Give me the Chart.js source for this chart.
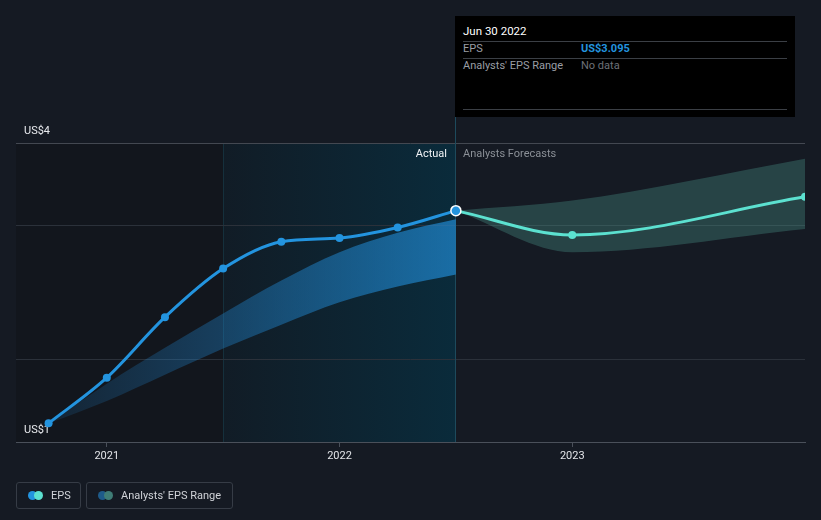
<!DOCTYPE html>
<html>
<head>
<meta charset="utf-8">
<script src="https://cdn.jsdelivr.net/npm/chart.js@4.4.1/dist/chart.umd.min.js"></script>
<style>
  body { margin: 0; background: #151a23; font-family: Roboto, "Open Sans", sans-serif; }
  #wrap { position: relative; width: 821px; height: 520px; overflow: hidden; }
  #tip { position: absolute; left: 455px; top: 16px; width: 340px; height: 101px; background: #000; }
  #tip .row { position: absolute; left: 8px; right: 8px; font-size: 11px; }
  #tip .sep { position: absolute; left: 8px; right: 8px; height: 1px; background: #3b3f45; }
  .legend { position: absolute; top: 482px; height: 27px; border: 1px solid #363c46; border-radius: 3px; box-sizing: border-box; color: #d0d3d8; font-size: 11px; }
  .legend .dot { position: absolute; top: 8px; width: 9px; height: 9px; border-radius: 50%; }
  .legend span.t { position: absolute; top: 6px; }
</style>
</head>
<body>
<div id="wrap">
  <canvas id="chart1" width="821" height="520"></canvas>
  <div id="tip">
    <div class="row" style="top:8px;color:#fff;font-size:11.5px;">Jun 30 2022</div>
    <div class="sep" style="top:25px;"></div>
    <div class="row" style="top:26px;color:#9a9ea5;">EPS<span style="position:absolute;left:118px;color:#2394df;font-weight:bold;">US$3.095</span></div>
    <div class="sep" style="top:42px;"></div>
    <div class="row" style="top:43px;color:#9a9ea5;">Analysts' EPS Range<span style="position:absolute;left:118px;color:#6d7178;">No data</span></div>
    <div class="sep" style="top:93px;"></div>
  </div>
  <div class="legend" style="left:16px;width:65px;">
    <div class="dot" style="left:11px;background:#2394df;"></div>
    <div class="dot" style="left:17px;background:#5ce1d0;"></div>
    <span class="t" style="left:34px;">EPS</span>
  </div>
  <div class="legend" style="left:86px;width:147px;">
    <div class="dot" style="left:11px;background:#1e5b8a;"></div>
    <div class="dot" style="left:17px;background:#3f7d76;"></div>
    <span class="t" style="left:34px;">Analysts' EPS Range</span>
  </div>
</div>
<script>
// actual EPS (decimal years)
const epsYears = [2020.75, 2021.0, 2021.25, 2021.5, 2021.75, 2022.0, 2022.25, 2022.5];
const epsValues = [0.25, 0.86, 1.67, 2.32, 2.68, 2.73, 2.87, 3.095];

// past analysts range
const pastRangeYears = [2020.75, 2021.0, 2021.25, 2021.5, 2021.75, 2022.0, 2022.25, 2022.5];
const pastRangeLow = [0.25, 0.55, 0.9, 1.25, 1.57, 1.87, 2.08, 2.24];
const pastRangeHigh = [0.25, 0.78, 1.26, 1.72, 2.16, 2.54, 2.8, 2.98];

// forecast
const forecastYears = [2022.5, 2023.0, 2024.0];
const forecastValues = [3.095, 2.77, 3.28];
const forecastLow = [3.095, 2.54, 2.85];
const forecastHigh = [3.095, 3.23, 3.79];

// axes
const xTickYears = [2021, 2022, 2023];
const yGridValues = [0, 1.1, 2.9, 4];
const yLabelValues = [4, 0];
const yLabelTexts = ["US$4", "US$1"];
const pastStart = 2021.5;
const todayYear = 2022.5;

function pts(xs, ys) {
  return xs.map((x, i) => ({ x: x, y: ys[i] }));
}

const ctx = document.getElementById("chart1");

var myChart = new Chart(ctx, {
  type: "line",
  data: {
    datasets: [
      {
        label: "EPS",
        data: pts(epsYears, epsValues),
        borderColor: "#2394df",
        backgroundColor: "#2394df",
        borderWidth: 3,
        cubicInterpolationMode: "monotone",
        pointRadius: (c) => (c.dataIndex === epsValues.length - 1 ? 5 : 4),
        pointBorderColor: (c) => (c.dataIndex === epsValues.length - 1 ? "#fff" : "#2394df"),
        pointBorderWidth: (c) => (c.dataIndex === epsValues.length - 1 ? 1.5 : 0),
        pointBackgroundColor: "#2394df",
        fill: false,
        order: 0,
      },
      {
        label: "Forecast",
        data: pts(forecastYears, forecastValues),
        borderColor: "#5ce1d0",
        backgroundColor: "#5ce1d0",
        borderWidth: 3,
        cubicInterpolationMode: "monotone",
        pointRadius: (c) => (c.dataIndex === 0 ? 0 : 4),
        pointBorderWidth: 0,
        fill: false,
        order: 1,
      },
      {
        label: "pastLow",
        data: pts(pastRangeYears, pastRangeLow),
        borderWidth: 0,
        pointRadius: 0,
        cubicInterpolationMode: "monotone",
        fill: false,
        order: 3,
      },
      {
        label: "pastHigh",
        data: pts(pastRangeYears, pastRangeHigh),
        borderWidth: 0,
        pointRadius: 0,
        cubicInterpolationMode: "monotone",
        fill: { target: 2 },
        backgroundColor: function (context) {
          const area = context.chart.chartArea;
          if (!area) return "rgba(33,150,243,0.4)";
          const xs = context.chart.scales.x;
          const g = context.chart.ctx.createLinearGradient(xs.getPixelForValue(2020.75), 0, xs.getPixelForValue(todayYear), 0);
          g.addColorStop(0, "rgba(33,140,220,0.12)");
          g.addColorStop(1, "rgba(35,150,230,0.62)");
          return g;
        },
        order: 2,
      },
      {
        label: "foreLow",
        data: pts(forecastYears, forecastLow),
        borderWidth: 0,
        pointRadius: 0,
        cubicInterpolationMode: "monotone",
        fill: false,
        order: 5,
      },
      {
        label: "foreHigh",
        data: pts(forecastYears, forecastHigh),
        borderWidth: 0,
        pointRadius: 0,
        cubicInterpolationMode: "monotone",
        fill: { target: 4 },
        backgroundColor: "rgba(78,160,145,0.32)",
        order: 4,
      },
    ],
  },
  options: {
    responsive: false,
    animation: false,
    events: [],
    layout: { padding: { left: 16, right: 16, top: 143, bottom: 0 } },
    plugins: {
      legend: { display: false },
      tooltip: { enabled: false },
    },
    scales: {
      x: {
        type: "linear",
        min: 2020.61,
        max: 2024.0,
        afterBuildTicks: (s) => {
          s.ticks = xTickYears.map((v) => ({ value: v }));
        },
        afterFit: (s) => {
          s.height = 78;
        },
        ticks: {
          callback: (v) => String(v),
          color: "#e2e4e8",
          font: { family: "Roboto", size: 11 },
          padding: 3,
          maxRotation: 0,
        },
        grid: {
          drawOnChartArea: false,
          drawTicks: true,
          tickLength: 5,
          color: "#4a505a",
        },
        border: { display: true, color: "#4a505a", width: 1 },
      },
      y: {
        type: "linear",
        min: 0,
        max: 4,
        afterBuildTicks: (s) => {
          s.ticks = yGridValues.map((v) => ({ value: v }));
        },
        afterFit: (s) => {
          s.width = 0;
        },
        ticks: { display: false },
        grid: {
          drawTicks: false,
          color: (c) => (c.tick && c.tick.value === 4 ? "#434851" : c.tick && c.tick.value === 0 ? "rgba(0,0,0,0)" : "#2b313a"),
          lineWidth: 1,
        },
        border: { display: false },
      },
    },
  },
  plugins: [
    {
      id: "regions",
      beforeDraw: (chart) => {
        const { ctx, chartArea: { left, top, bottom }, scales: { x } } = chart;
        const xa = x.getPixelForValue(pastStart);
        const xt = x.getPixelForValue(todayYear);
        ctx.save();
        // darker left part
        ctx.fillStyle = "#12161d";
        ctx.fillRect(left, top, xa - left, bottom - top);
        // teal gradient part
        const g = ctx.createLinearGradient(xa, 0, xt, 0);
        g.addColorStop(0, "#111c26");
        g.addColorStop(1, "#0a2b3b");
        ctx.fillStyle = g;
        ctx.fillRect(xa, top, xt - xa, bottom - top);
        ctx.fillStyle = "#15303c";
        ctx.fillRect(Math.round(xa), top, 1, bottom - top);
        ctx.restore();
      },
      beforeDatasetsDraw: (chart) => {
        const { ctx, chartArea: { top, bottom }, scales: { x, y } } = chart;
        const xt = Math.floor(x.getPixelForValue(todayYear));
        ctx.save();
        ctx.fillStyle = "#1d4a5c";
        ctx.fillRect(xt, 117, 1, bottom - 117);
        // y labels
        ctx.font = "11px Roboto";
        ctx.fillStyle = "#e8eaee";
        ctx.textBaseline = "middle";
        ctx.textAlign = "left";
        yLabelValues.forEach((v, i) => {
          ctx.fillText(yLabelTexts[i], 24, y.getPixelForValue(v) - 12);
        });
        // section labels
        ctx.textAlign = "right";
        ctx.fillStyle = "#f0f2f5";
        ctx.fillText("Actual", xt - 8, top + 11);
        ctx.textAlign = "left";
        ctx.fillStyle = "#8b9097";
        ctx.fillText("Analysts Forecasts", xt + 8, top + 11);
        ctx.restore();
      },
    },
  ],
});
</script>
</body>
</html>
